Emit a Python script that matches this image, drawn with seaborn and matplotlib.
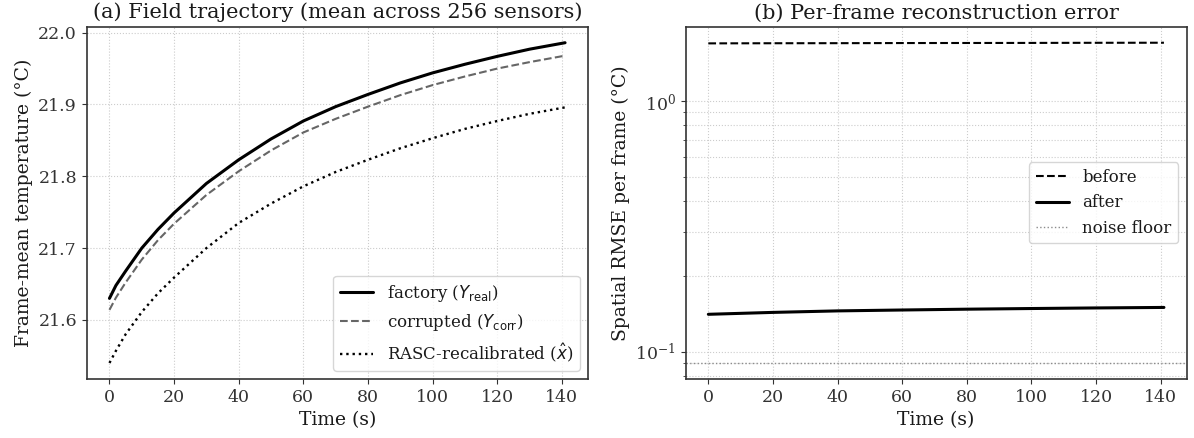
import numpy as np
import pandas as pd
import seaborn as sns
from matplotlib import pyplot as plt
from matplotlib.ticker import LogLocator

# panel (a): frame-mean temperature
t_a = [0, 2, 5, 10, 15, 20, 30, 40, 50, 60, 70, 80, 90, 100, 110, 120, 130, 141]
factory = [21.630, 21.648, 21.668, 21.700, 21.726, 21.749, 21.790, 21.823, 21.852,
           21.877, 21.897, 21.914, 21.930, 21.944, 21.956, 21.967, 21.977, 21.986]
corrupted = [21.614, 21.631, 21.652, 21.684, 21.711, 21.734, 21.774, 21.807, 21.836,
             21.861, 21.880, 21.897, 21.913, 21.927, 21.939, 21.950, 21.959, 21.968]
rasc = [21.540, 21.557, 21.580, 21.611, 21.637, 21.659, 21.700, 21.735, 21.762,
        21.786, 21.806, 21.823, 21.839, 21.853, 21.866, 21.877, 21.887, 21.896]

# panel (b): per-frame RMSE
t_b = [0, 20, 40, 60, 80, 100, 120, 141]
before = [1.697, 1.699, 1.700, 1.702, 1.703, 1.704, 1.706, 1.707]
after = [0.1413, 0.1438, 0.1458, 0.1470, 0.1481, 0.1490, 0.1498, 0.1505]
noise_floor = 0.0904

sns.set_style("ticks", {"axes.edgecolor": "0.2", "xtick.color": "0.2", "ytick.color": "0.2"})
plt.rcParams["font.family"] = ["DejaVu Serif"]
plt.rcParams["mathtext.fontset"] = "dejavusans"
plt.rcParams["axes.linewidth"] = 1.2
plt.rcParams["text.color"] = "0.1"
plt.rcParams["axes.labelcolor"] = "0.1"

df_a = pd.DataFrame({"t": t_a, "factory": factory, "corrupted": corrupted, "rasc": rasc})
df_b = pd.DataFrame({"t": t_b, "before": before, "after": after})

fig, (ax1, ax2) = plt.subplots(1, 2, figsize=(11.94, 4.38), dpi=100)
fig.subplots_adjust(left=0.0726, right=0.9939, top=0.939, bottom=0.1347, wspace=0.195)

sns.lineplot(data=df_a, x="t", y="factory", ax=ax1, color="black", lw=2.2,
             label=r"factory ($Y_{\mathrm{real}}$)")
sns.lineplot(data=df_a, x="t", y="corrupted", ax=ax1, color="0.4", lw=1.5, linestyle="--",
             label=r"corrupted ($Y_{\mathrm{corr}}$)")
sns.lineplot(data=df_a, x="t", y="rasc", ax=ax1, color="black", lw=1.7, linestyle=":",
             label=r"RASC-recalibrated ($\hat{x}$)")
ax1.set_title("(a) Field trajectory (mean across 256 sensors)", fontsize=15)
ax1.set_xlabel("Time (s)", fontsize=13.5)
ax1.set_ylabel("Frame-mean temperature (°C)", fontsize=13.5)
ax1.set_yticks([21.6, 21.7, 21.8, 21.9, 22.0])
ax1.grid(True, linestyle=":", color="0.8", lw=0.8)
ax1.legend(loc="lower right", fontsize=12)

sns.lineplot(data=df_b, x="t", y="before", ax=ax2, color="black", lw=1.5, linestyle="--",
             label="before")
sns.lineplot(data=df_b, x="t", y="after", ax=ax2, color="black", lw=2.2, label="after")
ax2.axhline(noise_floor, color="0.55", lw=1.0, linestyle=":", label="noise floor")
ax2.set_yscale("log")
ax2.yaxis.set_minor_locator(LogLocator(base=10, subs=np.arange(2, 10)))
ax2.set_title("(b) Per-frame reconstruction error", fontsize=15)
ax2.set_xlabel("Time (s)", fontsize=13.5)
ax2.set_ylabel("Spatial RMSE per frame (°C)", fontsize=13.5)
ax2.grid(True, which="both", linestyle=":", color="0.8", lw=0.8)
ax2.legend(loc="center right", fontsize=12)

for ax in (ax1, ax2):
    ax.set_xticks([0, 20, 40, 60, 80, 100, 120, 140])
    ax.tick_params(labelsize=12.5)

fig.savefig("out.png", dpi=100)
